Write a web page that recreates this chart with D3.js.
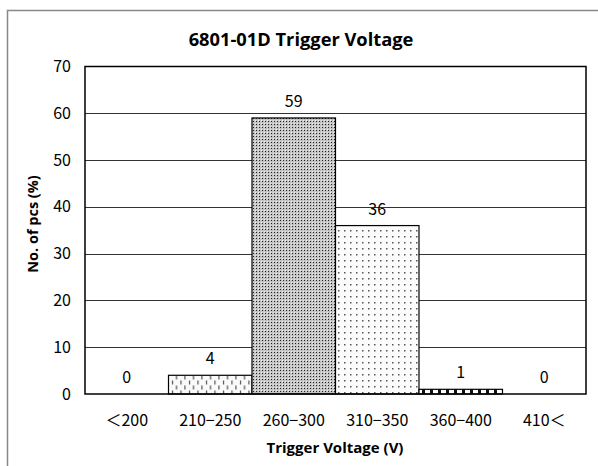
<!DOCTYPE html>
<html><head><meta charset="utf-8">
<script src="https://cdn.jsdelivr.net/npm/d3@7"></script>
<style>body{margin:0;background:#fff;} svg{display:block;}</style>
</head><body>
<svg id="c" width="598" height="466"></svg>
<script>
const categories = ["＜200","210−250","260−300","310−350","360−400","410＜"];
const values = [0,4,59,36,1,0];
const yTicks = [0,10,20,30,40,50,60,70];
const patterns = ["none","pDash","pDense","pDots","pStripe","none"];

const svg = d3.select("#c");
const W=598,H=466;
const m = {left:85, right:586, top:66.5, bottom:394};
const jp = "'Noto Sans CJK JP', 'DejaVu Sans', sans-serif";
const bold = "'Open Sans', 'Noto Sans', sans-serif";

const defs = svg.append("defs");
let p = defs.append("pattern").attr("id","pDash").attr("patternUnits","userSpaceOnUse").attr("width",8.5).attr("height",10);
p.append("rect").attr("width",8.5).attr("height",10).attr("fill","#fafafa");
p.append("rect").attr("x",2).attr("y",0.5).attr("width",1).attr("height",4).attr("fill","#333");
p.append("rect").attr("x",6).attr("y",5.5).attr("width",1).attr("height",4).attr("fill","#333");
p = defs.append("pattern").attr("id","pDense").attr("patternUnits","userSpaceOnUse").attr("width",3).attr("height",3);
p.append("rect").attr("width",3).attr("height",3).attr("fill","#c4c4c4");
p.append("rect").attr("x",1).attr("y",1).attr("width",1).attr("height",1).attr("fill","#222");
p.append("rect").attr("x",0).attr("y",0).attr("width",1).attr("height",1).attr("fill","#f0f0f0");
p = defs.append("pattern").attr("id","pDots").attr("patternUnits","userSpaceOnUse").attr("width",6).attr("height",6);
p.append("rect").attr("width",6).attr("height",6).attr("fill","#fcfcfc");
p.append("rect").attr("x",2).attr("y",2).attr("width",1.5).attr("height",1.5).attr("fill","#555");
p = defs.append("pattern").attr("id","pStripe").attr("patternUnits","userSpaceOnUse").attr("width",8).attr("height",8);
p.append("rect").attr("width",8).attr("height",8).attr("fill","#111");
p.append("rect").attr("x",1).attr("y",0).attr("width",5).attr("height",8).attr("fill","#fff");

svg.append("rect").attr("x",7.5).attr("y",10.5).attr("width",W).attr("height",H).attr("fill","none").attr("stroke","#888").attr("stroke-width",1.5);

const x = d3.scaleBand().domain(categories).range([m.left,m.right]).padding(0);
const y = d3.scaleLinear().domain([0,70]).range([m.bottom,m.top]);

svg.append("g").selectAll("line").data(yTicks.filter(t=>t>0&&t<70)).join("line")
  .attr("x1",m.left).attr("x2",m.right)
  .attr("y1",d=>Math.round(y(d))+0.5).attr("y2",d=>Math.round(y(d))+0.5)
  .attr("stroke","#333").attr("stroke-width",1);

svg.append("g").selectAll("rect").data(values).join("rect")
  .attr("x",(d,i)=>x(categories[i]))
  .attr("y",d=>y(d))
  .attr("width",x.bandwidth())
  .attr("height",d=>m.bottom-y(d))
  .attr("fill",(d,i)=>patterns[i]==="none"?"none":`url(#${patterns[i]})`)
  .attr("stroke",(d)=>d>0?"#000":"none").attr("stroke-width",1.2);

svg.append("rect").attr("x",m.left).attr("y",m.top).attr("width",m.right-m.left).attr("height",m.bottom-m.top)
  .attr("fill","none").attr("stroke","#000").attr("stroke-width",1.5);

const yAxis = d3.axisLeft(y).tickValues(yTicks).tickSize(0).tickPadding(14);
const ya = svg.append("g").attr("transform",`translate(${m.left},0)`).call(yAxis);
ya.select(".domain").remove();
ya.selectAll("text").attr("font-family",jp).attr("font-size",16).attr("fill","#000");

const xAxis = d3.axisBottom(x).tickSize(0).tickPadding(21);
const xa = svg.append("g").attr("transform",`translate(0,${m.bottom})`).call(xAxis);
xa.select(".domain").remove();
xa.selectAll("text").attr("font-family",jp).attr("font-size",16).attr("fill","#000");

svg.append("g").selectAll("text").data(values).join("text")
  .attr("x",(d,i)=>x(categories[i])+x.bandwidth()/2)
  .attr("y",d=>y(d)-11)
  .attr("text-anchor","middle")
  .attr("font-family",jp).attr("font-size",16).attr("fill","#000")
  .text(d=>d);

svg.append("text").attr("x",301).attr("y",46).attr("text-anchor","middle")
  .attr("font-family",bold).attr("font-weight","bold").attr("font-size",18.3).text("6801-01D Trigger Voltage");
svg.append("text").attr("x",335).attr("y",453).attr("text-anchor","middle")
  .attr("font-family",bold).attr("font-weight","bold").attr("font-size",15).text("Trigger Voltage (V)");
svg.append("text").attr("transform","translate(38,224) rotate(-90)").attr("text-anchor","middle")
  .attr("font-family",bold).attr("font-weight","bold").attr("font-size",14.5).text("No. of pcs (%)");
</script>
</body></html>
